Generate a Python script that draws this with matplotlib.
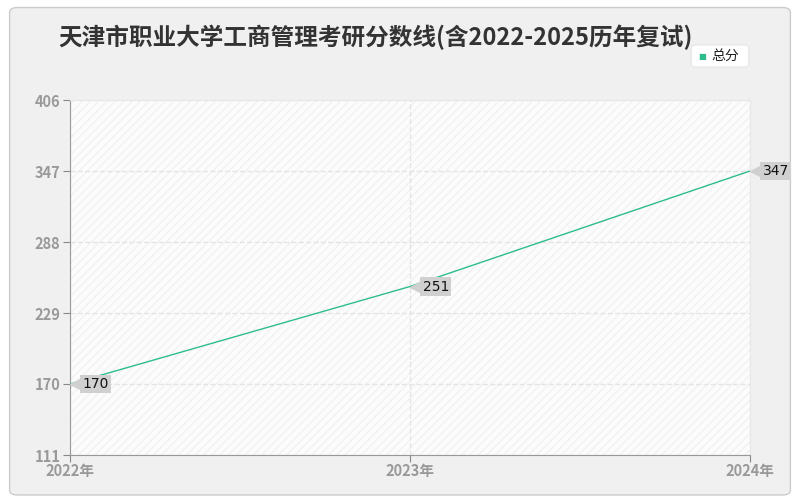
import matplotlib
matplotlib.use('Agg')
import matplotlib.pyplot as plt
from matplotlib.patches import FancyBboxPatch
from matplotlib.transforms import offset_copy

plt.rcParams['font.family'] = ['Noto Sans CJK SC', 'DejaVu Sans']

years = ['2022年', '2023年', '2024年']
scores = [170, 251, 347]
yticks = [111, 170, 229, 288, 347, 406]
series_name = '总分'
title = '天津市职业大学工商管理考研分数线(含2022-2025历年复试)'

line_color = '#2dbd8b'
grid_color = '#e4e4e4'
tick_color = '#999999'
tag_color = '#d0d0d0'

fig = plt.figure(figsize=(8, 5), dpi=100)
fig.patch.set_facecolor('white')
bg = FancyBboxPatch((0.012, 0.01), 0.976, 0.975, boxstyle='round,pad=0,rounding_size=0.01',
                    transform=fig.transFigure, facecolor='#f0f0f0', edgecolor='#cccccc', lw=1,
                    zorder=-10)
fig.patches.append(bg)

ax = fig.add_axes([0.0875, 0.09, 0.85, 0.71])
ax.set_facecolor('#fcfcfc')
x = list(range(len(years)))

# faint diagonal hatch on plot area
ax.fill_between([0, len(years) - 1], yticks[0], yticks[-1], facecolor='none',
                edgecolor='#f2f2f2', hatch='////', lw=0, zorder=0)

ax.plot(x, scores, color=line_color, lw=1, zorder=3)

tip_tr = offset_copy(ax.transData, fig=fig, x=4.5, y=0, units='points')
for xi, v in zip(x, scores):
    ax.plot(xi, v, marker='<', markersize=9, color=tag_color, zorder=4, clip_on=False,
            transform=tip_tr)
    ax.annotate(str(v), (xi, v), xytext=(9, 0), textcoords='offset points',
                ha='left', va='center', fontsize=10, color='#111111', family=['DejaVu Sans'],
                bbox=dict(boxstyle='square,pad=0.15', fc=tag_color, ec='none'),
                zorder=5, annotation_clip=False)

ax.set_xlim(0, len(years) - 1)
ax.set_ylim(yticks[0], yticks[-1])
ax.set_xticks(x)
ax.set_xticklabels(years)
ax.set_yticks(yticks)
ax.tick_params(axis='both', colors='#888888', labelcolor=tick_color, labelsize=10.5, length=5)
ax.tick_params(axis='x', pad=1)
ax.tick_params(axis='y', pad=2)
for lbl in ax.get_xticklabels():
    lbl.set_fontweight('bold')
for lbl in ax.get_yticklabels():
    lbl.set_fontweight('bold')
ax.xaxis.grid(True, color=grid_color, ls='--', lw=1)
ax.yaxis.grid(True, color=grid_color, ls='--', lw=1)
ax.set_axisbelow(True)
for side in ['top', 'right']:
    ax.spines[side].set_color('#e8e8e8')
for side in ['left', 'bottom']:
    ax.spines[side].set_color('#999999')

fig.text(0.073, 0.925, title, fontsize=17, fontweight='bold', color='#333333', va='center', ha='left')

# legend box
leg = FancyBboxPatch((0.864, 0.866), 0.072, 0.044, boxstyle='round,pad=0,rounding_size=0.006',
                     transform=fig.transFigure, facecolor='white', edgecolor='#e6e6e6', lw=0.8)
fig.patches.append(leg)
fig.text(0.878, 0.888, '■', color=line_color, fontsize=6, va='center', ha='center',
         family=['DejaVu Sans'])
fig.text(0.889, 0.888, series_name, fontsize=10, color='#222222', va='center', ha='left')

fig.savefig('out.png', dpi=100, facecolor=fig.get_facecolor())
